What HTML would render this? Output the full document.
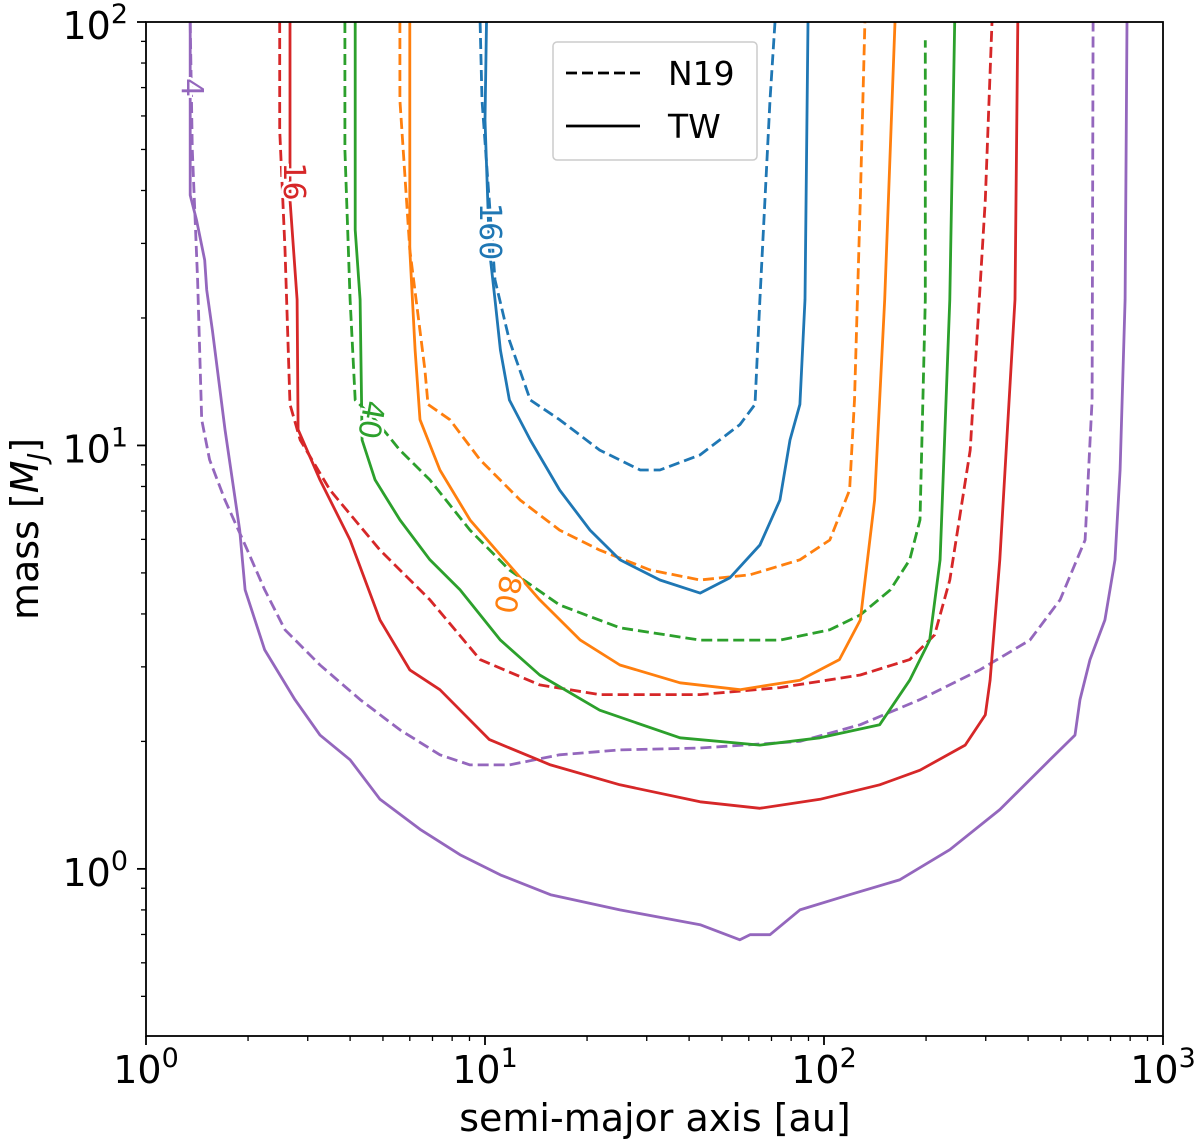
<!DOCTYPE html>
<html><head><meta charset="utf-8"><style>
body{margin:0;background:#fff}
svg{display:block;font-family:"DejaVu Sans","Liberation Sans",sans-serif}
</style></head><body>
<svg id="chart" width="1200" height="1146" viewBox="0 0 1200 1146">
<g id="plot"></g>
<g id="axes"></g>
</svg>
<script>
const xTicks=[1,10,100,1000];
const xTickLabels=["0","1","2","3"];
const yTicks=[1,10,100];
const yTickLabels=["0","1","2"];

const tw4A=[1.35,1.35,1.41,1.49,1.51,1.57,1.71,1.89,1.96,2.24,2.75,3.26,4.0,4.9,6.43,8.44,11.1,15.6,25.0,43.1,56.5,60.5,69.3,84.9,119,167,235,330,464,550,569,609,674,722,747,773,783];
const tw4M=[100,39.0,34.0,27.4,23.3,18.7,10.9,6.31,4.56,3.29,2.51,2.07,1.81,1.46,1.24,1.08,0.968,0.869,0.80,0.738,0.68,0.699,0.699,0.80,0.869,0.942,1.11,1.38,1.81,2.07,2.51,3.12,3.87,5.37,8.75,22.1,100];
const n4A=[1.35,1.37,1.42,1.46,1.54,1.71,1.96,2.24,2.57,3.26,4.28,5.61,7.36,9.03,11.8,16.6,25.0,43.1,84.9,128,192,288,405,497,589,618,622];
const n4M=[100,49.9,24.6,11.5,9.25,7.43,5.82,4.56,3.67,3.03,2.51,2.13,1.86,1.76,1.76,1.86,1.91,1.93,2.0,2.19,2.51,2.95,3.47,4.32,5.98,12.8,100];
const tw16A=[2.66,2.66,2.79,2.81,3.26,4.0,4.9,6.0,7.36,10.3,15.6,25.0,43.1,64.7,97.3,146,192,261,299,309,330,366,373];
const tw16M=[100,38.0,22.1,10.9,8.29,5.98,3.87,2.95,2.65,2.02,1.76,1.58,1.44,1.39,1.46,1.58,1.71,1.96,2.31,2.79,5.37,22.1,100];
const n16A=[2.48,2.48,2.57,2.66,2.85,3.49,4.9,6.88,9.67,14.5,21.8,43.1,74.1,128,179,212,235,270,299,313];
const n16M=[100,55.6,29.0,12.5,10.3,7.85,5.66,4.32,3.12,2.72,2.58,2.58,2.68,2.87,3.12,3.57,4.81,9.75,38.0,100];
const tw40A=[4.14,4.14,4.28,4.34,4.74,5.61,6.88,8.44,11.1,14.5,21.8,37.6,64.7,97.3,146,179,205,220,235,243];
const tw40M=[100,32.3,22.1,10.3,8.29,6.67,5.37,4.56,3.47,2.87,2.37,2.04,1.96,2.04,2.19,2.79,3.47,5.37,22.1,100];
const n40A=[3.86,3.86,4.0,4.14,4.74,5.61,6.88,9.03,11.8,16.6,25.0,43.1,74.1,104,128,157,179,192,199,199];
const n40M=[100,49.9,22.1,12.8,11.5,9.75,8.29,6.31,5.08,4.2,3.71,3.47,3.47,3.67,3.98,4.56,5.37,6.67,22.1,90.6];
const tw80A=[6.0,6.0,6.22,6.43,7.36,9.03,11.1,14.5,19.1,25.0,37.6,56.5,84.9,111,128,141,151,162];
const tw80M=[100,29.0,16.8,11.5,8.75,6.67,5.51,4.32,3.47,3.03,2.75,2.65,2.79,3.12,3.87,7.43,22.1,100];
const n80A=[5.61,5.61,6.0,6.65,6.79,7.88,9.67,12.7,16.6,21.8,30.7,43.1,60.5,84.9,104,119,123,128,132];
const n80M=[100,65.4,29.0,15.1,12.5,11.5,9.25,7.43,6.31,5.66,5.08,4.81,4.95,5.37,5.98,7.85,12.8,38.0,100];
const tw160A=[10.1,10.0,10.3,10.7,11.1,11.8,13.6,16.6,20.4,25.0,32.8,43.1,52.8,64.7,74.1,79.4,84.9,87.9,89.7];
const tw160M=[100,58.7,29.0,22.1,16.8,12.8,10.3,7.85,6.31,5.37,4.81,4.48,4.87,5.82,7.43,10.3,12.5,22.1,100];
const n160A=[9.67,9.8,10.7,11.8,13.6,16.6,21.8,28.7,32.8,43.1,56.5,62.6,64.7,69.3,71.7];
const n160M=[100,65.4,24.6,17.7,12.8,11.5,9.75,8.75,8.75,9.5,11.2,12.5,22.1,65.4,100];

const labelText=["4","16","40","80","160"];
const labelA=[1.36,2.72,4.6,11.6,10.3];
const labelM=[70,42,11.5,4.45,32];
const labelRot=[90,90,100,100,90];
const labelColor=["#9467bd","#d62728","#2ca02c","#ff7f0e","#1f77b4"];

const L=146,R=1163,T=22,B=1036;
const xmin=0,xmax=3,ymin=Math.log10(0.403),ymax=2;
const X=a=>L+(Math.log10(a)-xmin)/(xmax-xmin)*(R-L);
const Y=m=>B-(Math.log10(m)-ymin)/(ymax-ymin)*(B-T);
const NS="http://www.w3.org/2000/svg";
const plot=document.getElementById('plot'),axes=document.getElementById('axes');
function mk(tag,attrs,parent){const e=document.createElementNS(NS,tag);for(const k in attrs)e.setAttribute(k,attrs[k]);parent.appendChild(e);return e;}

const cp=mk('clipPath',{id:'clip'},plot);mk('rect',{x:L,y:T,width:R-L,height:B-T},cp);
const lines=mk('g',{'clip-path':'url(#clip)'},plot);
const series=[
 [tw4A,tw4M,"#9467bd",false,"tw-contour-4"],[n4A,n4M,"#9467bd",true,"n19-contour-4"],
 [tw16A,tw16M,"#d62728",false,"tw-contour-16"],[n16A,n16M,"#d62728",true,"n19-contour-16"],
 [tw40A,tw40M,"#2ca02c",false,"tw-contour-40"],[n40A,n40M,"#2ca02c",true,"n19-contour-40"],
 [tw80A,tw80M,"#ff7f0e",false,"tw-contour-80"],[n80A,n80M,"#ff7f0e",true,"n19-contour-80"],
 [tw160A,tw160M,"#1f77b4",false,"tw-contour-160"],[n160A,n160M,"#1f77b4",true,"n19-contour-160"]];
series.forEach(s=>{
 const d=s[0].map((a,i)=>(i?'L':'M')+X(a).toFixed(1)+','+Y(s[1][i]).toFixed(1)).join('');
 const p=mk('path',{d:d,fill:'none',stroke:s[2],'stroke-width':2.8,'stroke-linejoin':'round'},lines);
 if(s[3])p.setAttribute('stroke-dasharray','11,5');
 
 
});
labelText.forEach((t,i)=>{
 const x=X(labelA[i]),y=Y(labelM[i]);
 const e=mk('text',{x:x,y:y,fill:labelColor[i],'font-size':30,'text-anchor':'middle','dominant-baseline':'central',transform:`rotate(${labelRot[i]} ${x} ${y})`,stroke:'#fff','stroke-width':5,'paint-order':'stroke'},plot);
 e.textContent=t;
 
 
});

const fr=mk('rect',{x:L,y:T,width:R-L,height:B-T,fill:'none',stroke:'#000','stroke-width':1.8},axes);


for(let d=0;d<3;d++)for(let k=2;k<10;k++){const x=X(k*Math.pow(10,d));mk('line',{x1:x,x2:x,y1:B,y2:B+5,stroke:'#000','stroke-width':1.3},axes);}
xTicks.forEach((v,i)=>{const x=X(v);mk('line',{x1:x,x2:x,y1:B,y2:B+9,stroke:'#000','stroke-width':1.8},axes);
 const t=mk('text',{x:x,y:B+47,'font-size':38,'text-anchor':'middle'},axes);
 t.innerHTML='10<tspan dy="-16" font-size="27">'+xTickLabels[i]+'</tspan>';
 
 });
[0.1,1,10].forEach(b=>{for(let k=2;k<10;k++){const v=k*b;if(v<0.403||v>100)continue;const y=Y(v);mk('line',{x1:L-5,x2:L,y1:y,y2:y,stroke:'#000','stroke-width':1.3},axes);}});
yTicks.forEach((v,i)=>{const y=Y(v);mk('line',{x1:L-9,x2:L,y1:y,y2:y,stroke:'#000','stroke-width':1.8},axes);
 const t=mk('text',{x:L-18,y:y+17,'font-size':38,'text-anchor':'end'},axes);
 t.innerHTML='10<tspan dy="-16" font-size="27">'+yTickLabels[i]+'</tspan>';
 
 });
const xl=mk('text',{x:655,y:1131,'font-size':38,'text-anchor':'middle'},axes);
xl.textContent='semi-major axis [au]';


const yl=mk('text',{x:0,y:0,'font-size':38,'text-anchor':'middle',transform:`translate(38 ${(T+B)/2}) rotate(-90)`},axes);
yl.innerHTML='mass [<tspan font-style="italic">M</tspan><tspan font-style="italic" font-size="26" dy="8">J</tspan><tspan dy="-8">]</tspan>';


const lg=mk('g',{},axes);


mk('rect',{x:553,y:42,width:204,height:118,rx:4,fill:'#fff',stroke:'#ccc','stroke-width':1.5},lg);
mk('line',{x1:566,x2:640,y1:73,y2:73,stroke:'#000','stroke-width':2.8,'stroke-dasharray':'11,5'},lg);
mk('line',{x1:566,x2:640,y1:126,y2:126,stroke:'#000','stroke-width':2.8},lg);
const t1=mk('text',{x:668,y:85,'font-size':33},lg);t1.textContent='N19';


const t2=mk('text',{x:668,y:138,'font-size':33},lg);t2.textContent='TW';


</script>
</body></html>
